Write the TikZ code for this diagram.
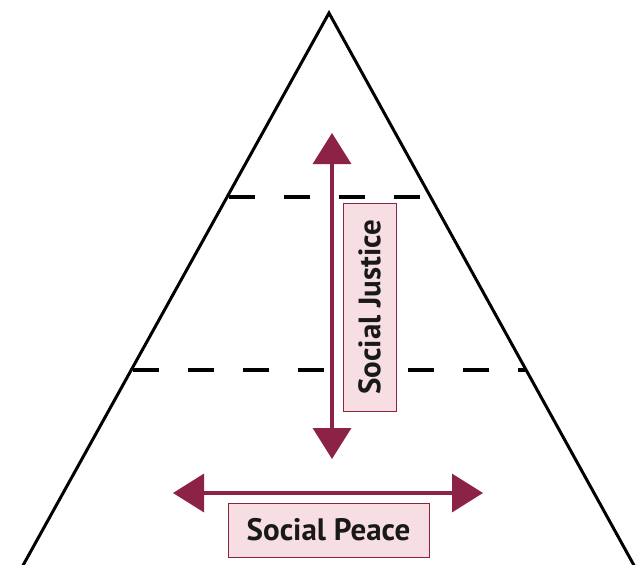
\documentclass[tikz,border=0pt]{standalone}
\usepackage{fontspec}
\setmainfont{PT Sans}
\usetikzlibrary{arrows.meta,calc}
\definecolor{maroon}{HTML}{8C2347}
\definecolor{pinkfill}{HTML}{F6DEE2}
\tikzset{
  edge/.style={line width=3pt, line join=miter},
  level/.style={line width=3.2pt, dash pattern=on 26pt off 29pt},
  axis/.style={line width=3.5pt, maroon, {Triangle[length=31pt,width=38pt]}-{Triangle[length=31pt,width=38pt]}},
  labeltext/.style={font=\bfseries\fontsize{31}{31}\selectfont, text=black!90},
  label/.style={draw=maroon, line width=0.9pt, fill=pinkfill, inner sep=0pt, labeltext}
}
\begin{document}
\begin{tikzpicture}[x=1pt,y=-1pt]
\useasboundingbox (0,0) rectangle (636,564);
\fill[white] (0,0) rectangle (636,564);
\coordinate (apex) at (329,13);
\coordinate (bl) at (21,569);
\coordinate (br) at (636,569);
\draw[edge] (bl) -- (apex) -- (br) -- cycle;
\coordinate (u1) at ($(apex)!0.3309!(bl)$);
\coordinate (u2) at ($(apex)!0.3309!(br)$);
\coordinate (l1) at ($(apex)!0.6421!(bl)$);
\coordinate (l2) at ($(apex)!0.6421!(br)$);
\draw[level, dash phase=-2pt] (u1) -- (u2);
\draw[level, dash phase=-2pt] (l1) -- (l2);
\coordinate (jt) at (332,133);
\coordinate (jb) at (332,459);
\draw[axis] (jb) -- (jt);
\coordinate (pl) at (173,493);
\coordinate (pr) at (483,493);
\draw[axis] (pl) -- (pr);
\node[label, minimum width=53pt, minimum height=208pt] (justice) at (369.5,307) {};
\node[labeltext, rotate=90] (jtext) at (369.5,307) {Social Justice};
\node[label, minimum width=201pt, minimum height=54pt] (peace) at (328.5,530) {Social Peace};
\end{tikzpicture}
\end{document}
